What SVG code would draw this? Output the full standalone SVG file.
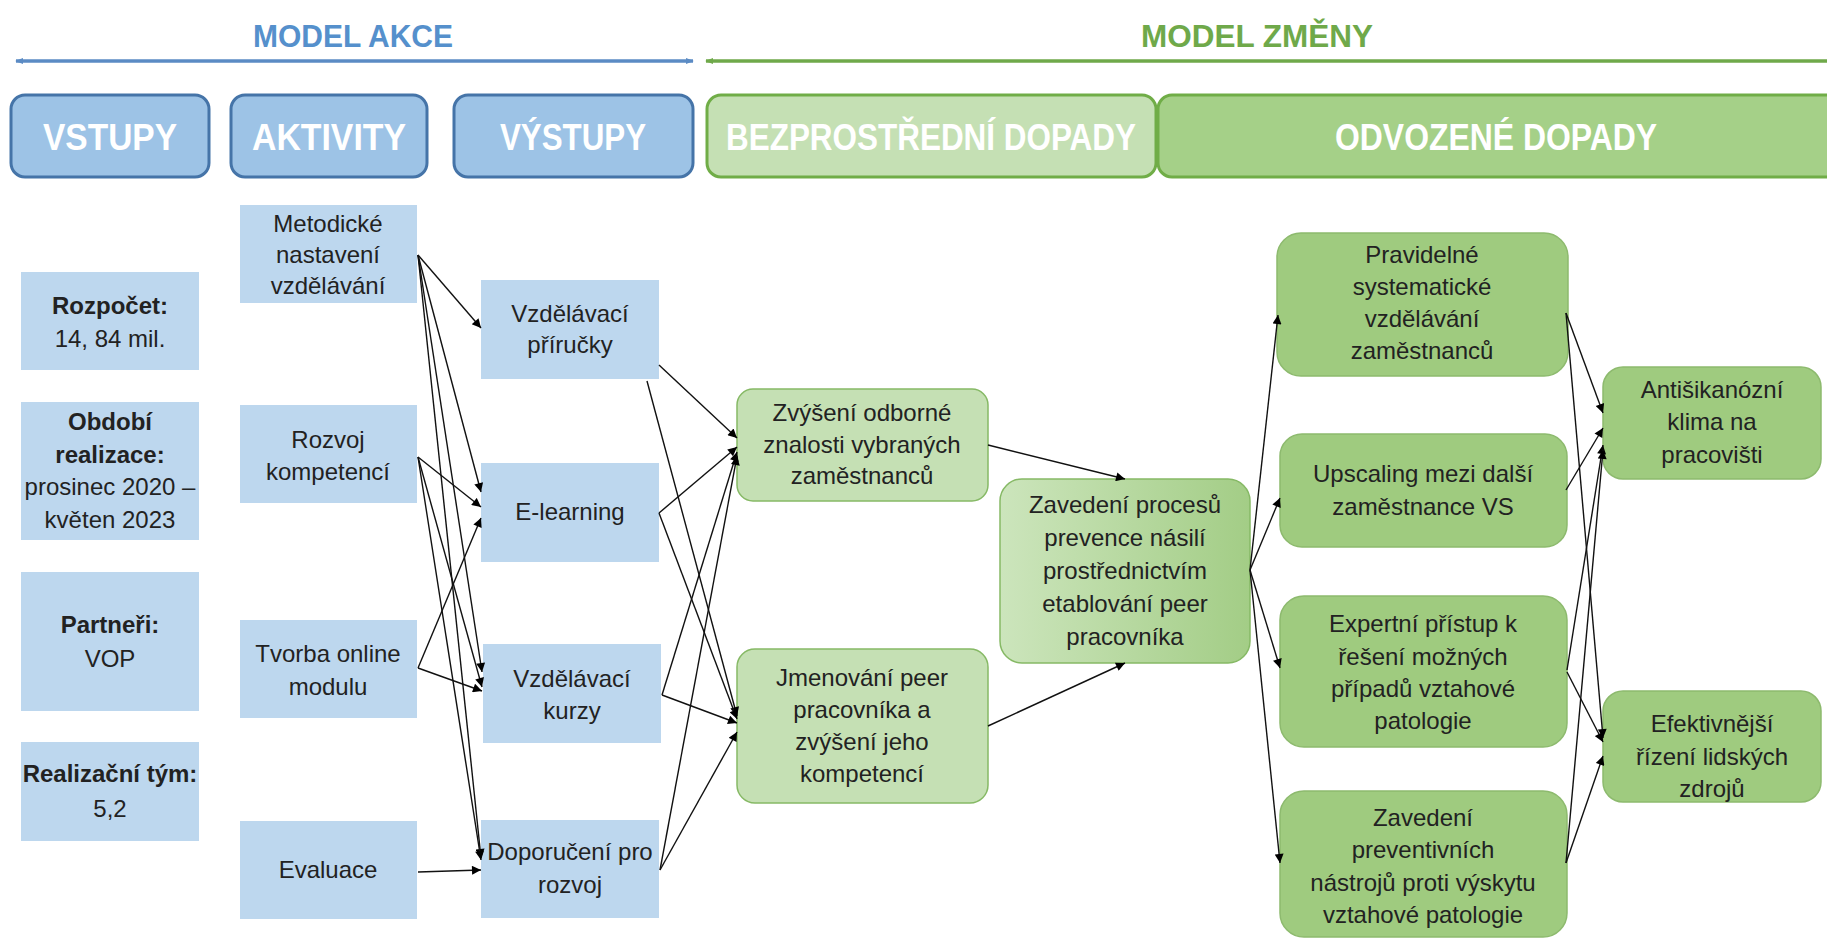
<svg xmlns="http://www.w3.org/2000/svg" width="1827" height="938" viewBox="0 0 1827 938">
<defs>
<style>
.t{font-family:"Liberation Sans",Arial,sans-serif;font-size:24px;fill:#222;text-anchor:middle}
.b{font-weight:bold}
.hd{font-family:"Liberation Sans",Arial,sans-serif;font-size:37px;font-weight:bold;fill:#fff;text-anchor:middle}
.bl{fill:#BDD7EE}
.hb{fill:#9DC3E6;stroke:#4574A8;stroke-width:3}
.hg1{fill:#C5E0B4;stroke:#70AD47;stroke-width:3}
.hg2{fill:#A5D088;stroke:#70AD47;stroke-width:3}
.g1{fill:#C5E0B4;stroke:#86B965;stroke-width:1.5}
.g2{fill:#9FCB7F;stroke:#8DBA6E;stroke-width:1.5}
.c line{stroke:#111;stroke-width:1.4;marker-end:url(#ah)}
</style>
<marker id="ah" viewBox="0 0 10 10" refX="10" refY="5" markerWidth="11" markerHeight="9" markerUnits="userSpaceOnUse" orient="auto"><path d="M0,0 L10,5 L0,10 z" fill="#000"/></marker>
<marker id="mb" viewBox="0 0 10 10" refX="9" refY="5" markerWidth="8" markerHeight="8" markerUnits="userSpaceOnUse" orient="auto-start-reverse"><path d="M0,1 L10,5 L0,9 z" fill="#5B8BC4"/></marker>
<marker id="mg" viewBox="0 0 10 10" refX="9" refY="5" markerWidth="8" markerHeight="8" markerUnits="userSpaceOnUse" orient="auto-start-reverse"><path d="M0,1 L10,5 L0,9 z" fill="#6FA94A"/></marker>
<linearGradient id="gz" x1="0" y1="0" x2="1" y2="0"><stop offset="0" stop-color="#CCE5BC"/><stop offset="1" stop-color="#A3CD86"/></linearGradient>
</defs>
<rect width="1827" height="938" fill="#fff"/>

<g id="header">
<text x="353" y="47" font-family="Liberation Sans, Arial, sans-serif" font-size="31" font-weight="bold" fill="#5590CC" text-anchor="middle" textLength="200" lengthAdjust="spacingAndGlyphs">MODEL AKCE</text>
<line x1="16" y1="61" x2="693" y2="61" stroke="#5B8BC4" stroke-width="3.5" marker-start="url(#mb)" marker-end="url(#mb)"/>
<text x="1257" y="47" font-family="Liberation Sans, Arial, sans-serif" font-size="31" font-weight="bold" fill="#6FA94A" text-anchor="middle" textLength="232" lengthAdjust="spacingAndGlyphs">MODEL ZMĚNY</text>
<line x1="706" y1="61" x2="1827" y2="61" stroke="#6FA94A" stroke-width="3.5" marker-start="url(#mg)"/>
</g>

<g id="h-vstupy"><rect class="hb" x="11" y="95" width="198" height="82" rx="14"/><text class="hd" x="110" y="150" textLength="134" lengthAdjust="spacingAndGlyphs">VSTUPY</text></g>
<g id="h-aktivity"><rect class="hb" x="231" y="95" width="196" height="82" rx="14"/><text class="hd" x="329" y="150" textLength="154" lengthAdjust="spacingAndGlyphs">AKTIVITY</text></g>
<g id="h-vystupy"><rect class="hb" x="454" y="95" width="239" height="82" rx="14"/><text class="hd" x="573" y="150" textLength="146" lengthAdjust="spacingAndGlyphs">VÝSTUPY</text></g>
<g id="h-bezprostredni"><rect class="hg1" x="707" y="95" width="449" height="82" rx="14"/><text class="hd" x="931" y="150" textLength="410" lengthAdjust="spacingAndGlyphs">BEZPROSTŘEDNÍ DOPADY</text></g>
<g id="h-odvozene"><rect class="hg2" x="1158" y="95" width="690" height="82" rx="14"/><text class="hd" x="1496" y="150" textLength="322" lengthAdjust="spacingAndGlyphs">ODVOZENÉ DOPADY</text></g>

<g id="in-rozpocet"><rect class="bl" x="21" y="272" width="178" height="98"/><text class="t b" x="110" y="314">Rozpočet:</text><text class="t" x="110" y="347">14, 84 mil.</text></g>
<g id="in-obdobi"><rect class="bl" x="21" y="402" width="178" height="138"/><text class="t b" x="110" y="430">Období</text><text class="t b" x="110" y="463">realizace:</text><text class="t" x="110" y="495">prosinec 2020 –</text><text class="t" x="110" y="528">květen 2023</text></g>
<g id="in-partneri"><rect class="bl" x="21" y="572" width="178" height="139"/><text class="t b" x="110" y="633">Partneři:</text><text class="t" x="110" y="667">VOP</text></g>
<g id="in-tym"><rect class="bl" x="21" y="742" width="178" height="99"/><text class="t b" x="110" y="782">Realizační tým:</text><text class="t" x="110" y="817">5,2</text></g>

<g id="a-metodicke"><rect class="bl" x="240" y="205" width="177" height="98"/><text class="t" x="328" y="232">Metodické</text><text class="t" x="328" y="263">nastavení</text><text class="t" x="328" y="294">vzdělávání</text></g>
<g id="a-rozvoj"><rect class="bl" x="240" y="405" width="177" height="98"/><text class="t" x="328" y="448">Rozvoj</text><text class="t" x="328" y="480">kompetencí</text></g>
<g id="a-tvorba"><rect class="bl" x="240" y="620" width="177" height="98"/><text class="t" x="328" y="662">Tvorba online</text><text class="t" x="328" y="695">modulu</text></g>
<g id="a-evaluace"><rect class="bl" x="240" y="821" width="177" height="98"/><text class="t" x="328" y="878">Evaluace</text></g>

<g id="o-prirucky"><rect class="bl" x="481" y="280" width="178" height="99"/><text class="t" x="570" y="322">Vzdělávací</text><text class="t" x="570" y="353">příručky</text></g>
<g id="o-elearning"><rect class="bl" x="481" y="463" width="178" height="99"/><text class="t" x="570" y="520">E-learning</text></g>
<g id="o-kurzy"><rect class="bl" x="483" y="644" width="178" height="99"/><text class="t" x="572" y="687">Vzdělávací</text><text class="t" x="572" y="719">kurzy</text></g>
<g id="o-doporuceni"><rect class="bl" x="481" y="820" width="178" height="98"/><text class="t" x="570" y="860">Doporučení pro</text><text class="t" x="570" y="893">rozvoj</text></g>

<g id="i-zvyseni"><rect class="g1" x="737" y="389" width="251" height="112" rx="16"/><text class="t" x="862" y="421">Zvýšení odborné</text><text class="t" x="862" y="453">znalosti vybraných</text><text class="t" x="862" y="484">zaměstnanců</text></g>
<g id="i-jmenovani"><rect class="g1" x="737" y="649" width="251" height="154" rx="18"/><text class="t" x="862" y="686">Jmenování peer</text><text class="t" x="862" y="718">pracovníka a</text><text class="t" x="862" y="750">zvýšení jeho</text><text class="t" x="862" y="782">kompetencí</text></g>
<g id="i-zavedeni"><rect x="1000" y="479" width="250" height="184" rx="22" fill="url(#gz)" stroke="#86B965" stroke-width="1.5"/><text class="t" x="1125" y="513">Zavedení procesů</text><text class="t" x="1125" y="546">prevence násilí</text><text class="t" x="1125" y="579">prostřednictvím</text><text class="t" x="1125" y="612">etablování peer</text><text class="t" x="1125" y="645">pracovníka</text></g>

<g id="d-pravidelne"><rect class="g2" x="1277" y="233" width="291" height="143" rx="24"/><text class="t" x="1422" y="263">Pravidelné</text><text class="t" x="1422" y="295">systematické</text><text class="t" x="1422" y="327">vzdělávání</text><text class="t" x="1422" y="359">zaměstnanců</text></g>
<g id="d-upscaling"><rect class="g2" x="1280" y="434" width="287" height="113" rx="22"/><text class="t" x="1423" y="482">Upscaling mezi další</text><text class="t" x="1423" y="515">zaměstnance VS</text></g>
<g id="d-expertni"><rect class="g2" x="1280" y="596" width="287" height="151" rx="24"/><text class="t" x="1423" y="632">Expertní přístup k</text><text class="t" x="1423" y="665">řešení možných</text><text class="t" x="1423" y="697">případů vztahové</text><text class="t" x="1423" y="729">patologie</text></g>
<g id="d-preventivni"><rect class="g2" x="1280" y="791" width="287" height="146" rx="24"/><text class="t" x="1423" y="826">Zavedení</text><text class="t" x="1423" y="858">preventivních</text><text class="t" x="1423" y="891">nástrojů proti výskytu</text><text class="t" x="1423" y="923">vztahové patologie</text></g>

<g id="f-antisikanozni"><rect class="g2" x="1603" y="367" width="218" height="112" rx="20"/><text class="t" x="1712" y="398">Antišikanózní</text><text class="t" x="1712" y="430">klima na</text><text class="t" x="1712" y="463">pracovišti</text></g>
<g id="f-efektivnejsi"><rect class="g2" x="1603" y="691" width="218" height="111" rx="20"/><text class="t" x="1712" y="732">Efektivnější</text><text class="t" x="1712" y="765">řízení lidských</text><text class="t" x="1712" y="797">zdrojů</text></g>

<g id="connectors" class="c">
<line x1="418" y1="255" x2="481" y2="328"/>
<line x1="418" y1="255" x2="481" y2="492"/>
<line x1="418" y1="255" x2="482" y2="672"/>
<line x1="418" y1="255" x2="481" y2="858"/>
<line x1="418" y1="457" x2="481" y2="507"/>
<line x1="418" y1="457" x2="482" y2="687"/>
<line x1="418" y1="457" x2="481" y2="860"/>
<line x1="418" y1="668" x2="481" y2="518"/>
<line x1="418" y1="668" x2="482" y2="691"/>
<line x1="418" y1="872" x2="481" y2="870"/>
<line x1="659" y1="365" x2="737" y2="438"/>
<line x1="647" y1="381" x2="737" y2="716"/>
<line x1="659" y1="513" x2="737" y2="447"/>
<line x1="659" y1="513" x2="737" y2="719"/>
<line x1="662" y1="695" x2="737" y2="452"/>
<line x1="662" y1="695" x2="737" y2="723"/>
<line x1="660" y1="870" x2="737" y2="456"/>
<line x1="660" y1="870" x2="737" y2="732"/>
<line x1="988" y1="445" x2="1125" y2="479"/>
<line x1="988" y1="726" x2="1125" y2="663"/>
<line x1="1250" y1="570" x2="1278" y2="315"/>
<line x1="1250" y1="570" x2="1280" y2="498"/>
<line x1="1250" y1="570" x2="1280" y2="668"/>
<line x1="1250" y1="570" x2="1280" y2="863"/>
<line x1="1566" y1="313" x2="1603" y2="413"/>
<line x1="1566" y1="313" x2="1603" y2="738"/>
<line x1="1566" y1="490" x2="1603" y2="428"/>
<line x1="1567" y1="670" x2="1603" y2="445"/>
<line x1="1567" y1="672" x2="1603" y2="742"/>
<line x1="1566" y1="863" x2="1603" y2="450"/>
<line x1="1566" y1="863" x2="1603" y2="756"/>
</g>
</svg>
